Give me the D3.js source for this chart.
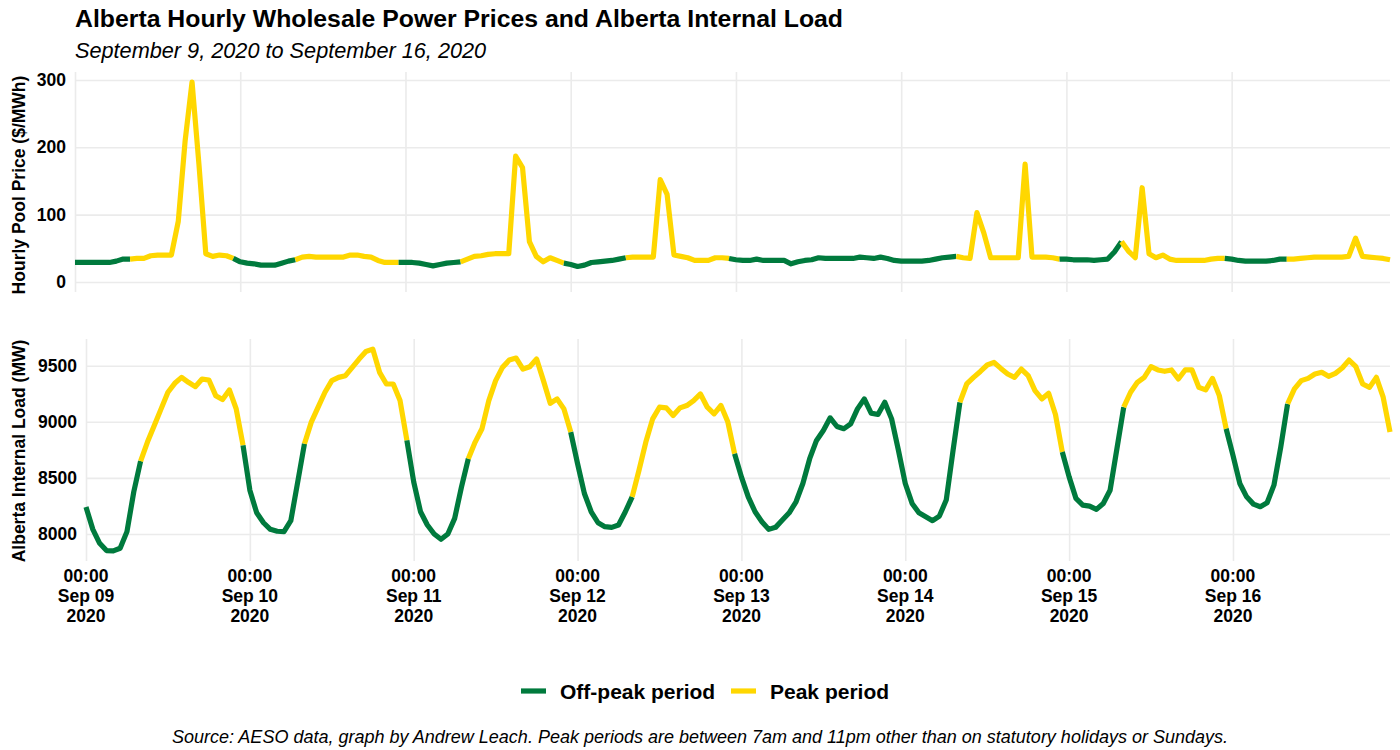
<!DOCTYPE html>
<html>
<head>
<meta charset="utf-8">
<script src="https://cdn.jsdelivr.net/npm/d3@7"></script>
<style>
  body { margin: 0; background: #fff; }
  svg text { font-family: "Liberation Sans", Arial, sans-serif; fill: #000; }
</style>
</head>
<body>
<script>
// hourly values, Sep 9 00:00 to Sep 16 23:00 (24 per line, one line per day)
var price = [
  29,29,29,29,29,29,31,34,34,35,35,39,40,40,40,90,210,297,175,42,38,40,39,35,
  30,28,27,25,25,25,28,31,33,37,38,37,37,37,37,37,40,40,38,37,32,29,29,29,
  29,29,28,26,24,26,28,29,30,34,38,39,41,42,42,42,187,170,60,38,30,36,32,28,
  26,23,25,29,30,31,32,34,36,37,37,37,37,152,130,40,38,36,32,32,32,36,36,35,
  33,32,32,34,32,32,32,32,27,30,32,33,36,35,35,35,35,35,37,36,35,37,35,32,
  31,31,31,31,32,34,36,37,38,36,35,103,73,36,36,36,36,36,175,37,37,37,36,34,
  34,33,33,33,32,33,34,45,60,46,36,140,42,36,40,34,32,32,32,32,32,34,35,35,
  34,32,31,31,31,31,32,34,34,34,35,36,37,37,37,37,37,38,65,38,37,36,35,33
];
var load = [
  8240,8041,7917,7852,7849,7873,8021,8376,8650,8819,8967,9115,9263,9343,9396,9352,9313,9381,9372,9233,9198,9284,9115,8790,
  8390,8189,8100,8041,8024,8021,8118,8460,8805,8997,9130,9263,9367,9396,9411,9485,9559,9627,9648,9441,9337,9337,9189,8834,
  8464,8198,8080,8000,7953,8000,8139,8420,8671,8819,8938,9189,9367,9485,9550,9568,9470,9491,9559,9367,9165,9204,9115,8908,
  8627,8361,8198,8100,8065,8059,8080,8198,8331,8568,8819,9026,9130,9124,9056,9124,9145,9189,9248,9130,9071,9145,9000,8716,
  8509,8331,8198,8109,8041,8059,8124,8189,8287,8450,8671,8834,8923,9035,8958,8938,8982,9115,9204,9077,9065,9174,9026,8745,
  8450,8272,8189,8154,8118,8160,8302,8745,9174,9337,9396,9449,9506,9529,9476,9426,9396,9470,9411,9278,9204,9254,9065,8731,
  8509,8317,8257,8248,8219,8272,8390,8760,9130,9263,9352,9396,9491,9462,9450,9462,9381,9462,9462,9307,9284,9387,9233,8938,
  8701,8450,8331,8266,8243,8278,8435,8775,9160,9293,9367,9387,9426,9441,9405,9432,9479,9550,9491,9337,9307,9396,9219,8908
];
var priceTicks = [0, 100, 200, 300];
var loadTicks = [8000, 8500, 9000, 9500];
var periodNames = ["Off-peak period", "Peak period"];
var periodColors = ["#007A3D", "#FFD700"];

var startTime = Date.UTC(2020, 8, 9, 0);
var dates = price.map(function (d, i) { return new Date(startTime + i * 3600000); });

// peak: 7am-11pm hour-ending blocks, not on Sundays
function isPeak(t) {
  var h = t.getUTCHours();
  return t.getUTCDay() !== 0 && h >= 8 && h <= 22;
}

var width = 1400, height = 750, right = 1390;

var svg = d3.select("body").append("svg")
  .attr("width", width)
  .attr("height", height);

svg.append("text")
  .attr("x", 75).attr("y", 27)
  .style("font-size", "24.8px").style("font-weight", "bold")
  .text("Alberta Hourly Wholesale Power Prices and Alberta Internal Load");
svg.append("text")
  .attr("x", 75).attr("y", 58)
  .style("font-size", "21.7px").style("font-style", "italic")
  .text("September 9, 2020 to September 16, 2020");

var panels = [
  { values: price, ticks: priceTicks, left: 75, top: 72, bottom: 292, zero: true,
    title: "Hourly Pool Price ($/MWh)", titleY: 185, xLabels: false },
  { values: load, ticks: loadTicks, left: 86, top: 339, bottom: 561, zero: false,
    title: "Alberta Internal Load (MW)", titleY: 451, xLabels: true }
];

panels.forEach(function (p) {
  var ext = d3.extent(p.values);
  if (p.zero) ext[0] = Math.min(0, ext[0]);
  var pad = (ext[1] - ext[0]) * 0.05;

  var x = d3.scaleUtc()
    .domain([dates[0], dates[dates.length - 1]])
    .range([p.left, right]);
  var y = d3.scaleLinear()
    .domain([ext[0] - pad, ext[1] + pad])
    .range([p.bottom, p.top]);

  // vertical gridlines, one per day
  var days = d3.utcDay.range(dates[0], dates[dates.length - 1]);
  svg.append("g")
    .attr("transform", "translate(0," + p.bottom + ")")
    .call(d3.axisBottom(x).tickValues(days).tickSize(-(p.bottom - p.top)).tickFormat(""))
    .call(function (g) { g.select(".domain").remove(); })
    .call(function (g) { g.selectAll(".tick line").attr("stroke", "#ebebeb").attr("stroke-width", 1.6); });

  // horizontal gridlines + labels
  svg.append("g")
    .attr("transform", "translate(" + p.left + ",0)")
    .call(d3.axisLeft(y).tickValues(p.ticks).tickFormat(d3.format("d"))
      .tickSize(-(right - p.left)).tickPadding(9))
    .call(function (g) { g.select(".domain").remove(); })
    .call(function (g) { g.selectAll(".tick line").attr("stroke", "#ebebeb").attr("stroke-width", 1.6); })
    .call(function (g) {
      g.selectAll(".tick text")
        .attr("fill", "#000")
        .style("font-size", "17.5px").style("font-weight", "bold")
        .style("font-family", "'Liberation Sans', Arial, sans-serif");
    });

  svg.append("text")
    .attr("transform", "translate(25," + p.titleY + ") rotate(-90)")
    .attr("text-anchor", "middle")
    .style("font-size", "17.5px").style("font-weight", "bold")
    .text(p.title);

  if (p.xLabels) {
    var lab = svg.append("g").selectAll("text")
      .data(days)
      .enter().append("text")
      .attr("text-anchor", "middle")
      .style("font-size", "17.5px").style("font-weight", "bold");
    var fmt = [d3.utcFormat("%H:%M"), d3.utcFormat("%b %d"), d3.utcFormat("%Y")];
    fmt.forEach(function (f, k) {
      lab.append("tspan")
        .attr("x", function (d) { return x(d); })
        .attr("y", p.bottom + 21 + k * 20)
        .text(function (d) { return f(d); });
    });
  }

  // split the series into runs of one period so colour changes at the segment start
  var runs = [], cur = null;
  for (var i = 0; i < p.values.length - 1; i++) {
    var pk = isPeak(dates[i]) ? 1 : 0;
    if (!cur || cur.peak !== pk) { cur = { peak: pk, idx: [i] }; runs.push(cur); }
    cur.idx.push(i + 1);
  }
  var line = d3.line()
    .x(function (i) { return x(dates[i]); })
    .y(function (i) { return y(p.values[i]); });

  svg.append("g").selectAll("path")
    .data(runs)
    .enter().append("path")
    .attr("d", function (r) { return line(r.idx); })
    .attr("fill", "none")
    .attr("stroke", function (r) { return periodColors[r.peak]; })
    .attr("stroke-width", 5.2)
    .attr("stroke-linejoin", "round");
});

// legend
var legendX = [521, 731];
var leg = svg.append("g").selectAll("g")
  .data(periodNames)
  .enter().append("g")
  .attr("transform", function (d, i) { return "translate(" + legendX[i] + ",691)"; });
leg.append("line")
  .attr("x1", 0).attr("x2", 25)
  .attr("stroke", function (d, i) { return periodColors[i]; })
  .attr("stroke-width", 5.2);
leg.append("text")
  .attr("x", 39).attr("dy", "0.36em")
  .style("font-size", "21px").style("font-weight", "bold")
  .text(function (d) { return d; });

svg.append("text")
  .attr("x", 700).attr("y", 743)
  .attr("text-anchor", "middle")
  .style("font-size", "18px").style("font-style", "italic")
  .text("Source: AESO data, graph by Andrew Leach. Peak periods are between 7am and 11pm other than on statutory holidays or Sundays.");
</script>
</body>
</html>
